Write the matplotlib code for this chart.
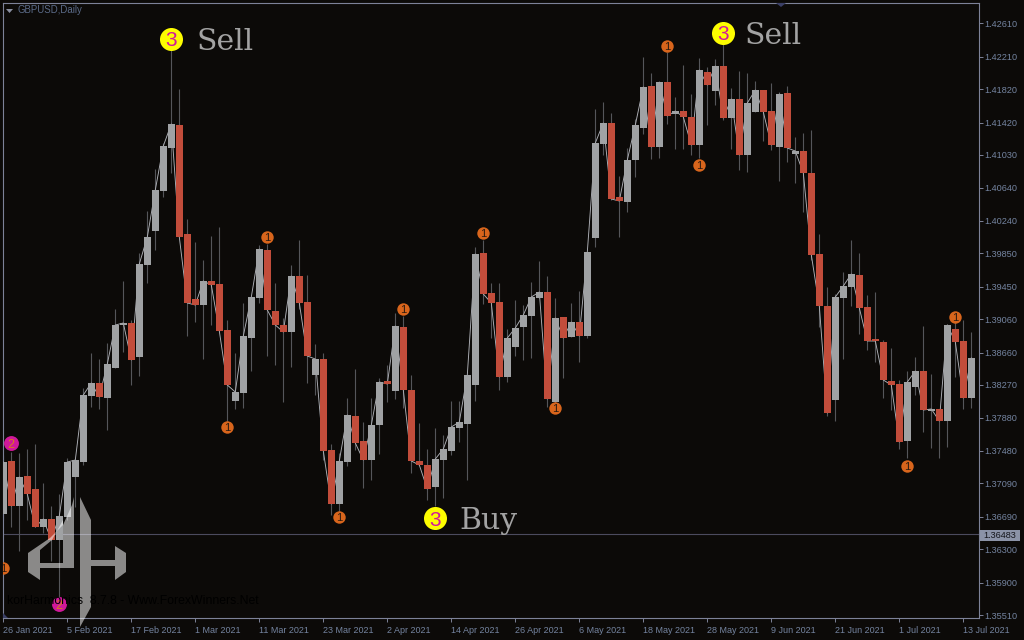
# -*- coding: utf-8 -*-
"""GBPUSD daily candles with harmonic pattern markers, dark terminal style."""
import numpy as np
import matplotlib
matplotlib.use("Agg")
import matplotlib.pyplot as plt
from matplotlib.path import Path
from matplotlib.patches import PathPatch, Polygon, Rectangle
from matplotlib.transforms import IdentityTransform

plt.rcParams.update({"font.family": ["Liberation Sans", "DejaVu Sans"]})

# prices in 1e-5 units, one entry per daily bar
opens = [136722, 137358, 136818, 137178, 137022, 136566, 136662, 136410, 136686, 137166,
         137346, 138138, 138294, 138114, 138474, 138990, 139014, 138606, 139710, 140118,
         140598, 141114, 141390, 140082, 139302, 139230, 139518, 139482, 138930, 138078,
         138174, 138834, 139314, 139890, 139158, 138990, 138906, 139578, 139266, 138390,
         138582, 137490, 136842, 137346, 137898, 137598, 137370, 137790, 138318, 138198,
         138966, 138210, 137358, 137310, 137046, 137370, 137478, 137754, 137802, 138270,
         139854, 139374, 139266, 138366, 138726, 138966, 139098, 139314, 139386, 138066,
         139086, 138846, 139026, 138858, 140034, 141162, 141414, 140526, 140466, 140970,
         141354, 141858, 141126, 141906, 141522, 141558, 141486, 141150, 142026, 141798,
         142098, 141474, 141702, 141030, 141546, 141810, 141558, 141126, 141774, 141042,
         141078, 140814, 139842, 139218, 138090, 139314, 139446, 139590, 139206, 138822,
         138786, 138318, 138282, 137598, 138246, 138438, 137958, 137982, 137838, 138942,
         138798, 138114]
highs = [137430, 137466, 137454, 137502, 137562, 137094, 136818, 136962, 137394, 137370,
         138234, 138654, 138582, 138774, 139182, 139518, 139050, 139854, 140358, 140862,
         141174, 142290, 141822, 140262, 139986, 139770, 140058, 140166, 139050, 138654,
         139254, 139326, 139950, 139962, 139494, 139074, 139710, 140010, 139590, 138762,
         138654, 137562, 137454, 138114, 138462, 137826, 138114, 138354, 138510, 139134,
         139098, 138390, 137814, 137502, 137754, 137670, 138078, 138078, 138390, 139926,
         140010, 139494, 139494, 138942, 139290, 139230, 139506, 139758, 139578, 139314,
         139086, 139254, 139398, 139866, 141582, 141666, 141534, 140778, 141114, 141462,
         142206, 142014, 141906, 142266, 141726, 142110, 141762, 142194, 142086, 142182,
         142362, 141834, 142038, 142014, 141918, 141810, 141894, 141786, 141858, 141246,
         141294, 141330, 140082, 139446, 139362, 139626, 140010, 139854, 139350, 139386,
         138810, 138714, 138330, 138438, 138606, 138978, 138402, 137982, 139002, 139026,
         139050, 138906]
lows = [136650, 136566, 136278, 136650, 136566, 136494, 136158, 135654, 136650, 136806,
        137310, 138006, 137982, 137730, 138474, 138666, 138270, 138378, 139494, 139890,
        140526, 140814, 140046, 138858, 139026, 138582, 138990, 138918, 137766, 137982,
        137994, 138438, 139254, 138618, 138510, 138066, 138486, 139182, 138294, 138150,
        137370, 136710, 136686, 137298, 137490, 137034, 137130, 137442, 138066, 138102,
        137994, 137214, 137310, 136890, 136818, 136914, 137430, 137586, 137130, 138078,
        139242, 138834, 138210, 138306, 138618, 138570, 138594, 139314, 138006, 138054,
        138354, 138846, 138546, 138834, 139926, 141030, 140490, 140046, 140346, 140766,
        141282, 140982, 140994, 141402, 141102, 141102, 141030, 140994, 141390, 141630,
        141450, 141102, 140850, 140826, 141546, 141198, 141090, 140718, 140946, 140694,
        140346, 139770, 138966, 137898, 137838, 138582, 139218, 138882, 138690, 138546,
        138114, 137970, 137502, 137394, 138150, 137706, 137514, 137394, 137526, 138366,
        137982, 137994]
closes = [137346, 136818, 137166, 136962, 136566, 136662, 136410, 136698, 137346, 137370,
          138150, 138294, 138126, 138522, 138990, 139014, 138570, 139722, 140046, 140610,
          141138, 141402, 140046, 139254, 139230, 139518, 139470, 138918, 138270, 138186,
          138858, 139326, 139902, 139170, 138990, 138906, 139578, 139254, 138618, 138582,
          137478, 136842, 137358, 137910, 137574, 137370, 137790, 138306, 138282, 138978,
          138210, 137358, 137310, 137022, 137382, 137502, 137766, 137826, 138390, 139842,
          139362, 139254, 138366, 138834, 138954, 139110, 139326, 139386, 138102, 139074,
          138834, 139026, 138858, 139866, 141174, 141414, 140502, 140478, 140970, 141390,
          141846, 141126, 141906, 141498, 141558, 141486, 141150, 142050, 141870, 142098,
          141474, 141702, 141030, 141654, 141810, 141546, 141150, 141762, 141114, 141078,
          140814, 139830, 139218, 137934, 139326, 139458, 139602, 139194, 138798, 138798,
          138330, 138270, 137586, 138306, 138438, 137970, 137982, 137838, 138990, 138786,
          138114, 138594]

# harmonic markers: bar index, price
one_idx = [0, 28, 33, 42, 50, 60, 69, 83, 87, 113, 119]
one_px = [136074, 137766, 140046, 136686, 139182, 140094, 137994, 142338, 140910, 137298, 139086]
two_idx = [1, 7]
two_px = [137574, 135642]
three_idx = [21, 54, 90]
three_px = [142422, 136674, 142494]
three_lbl = ["Sell", "Buy", "Sell"]

date_idx = list(range(0, 121, 8))
date_lbl = ["26 Jan 2021", "5 Feb 2021", "17 Feb 2021", "1 Mar 2021", "11 Mar 2021", "23 Mar 2021",
            "2 Apr 2021", "14 Apr 2021", "26 Apr 2021", "6 May 2021", "18 May 2021", "28 May 2021",
            "9 Jun 2021", "21 Jun 2021", "1 Jul 2021", "13 Jul 2021"]
price_ticks = [1.42610, 1.42210, 1.41820, 1.41420, 1.41030, 1.40640, 1.40240, 1.39850, 1.39450,
               1.39060, 1.38660, 1.38270, 1.37880, 1.37480, 1.37090, 1.36690, 1.36300, 1.35900,
               1.35510]
last_price = 1.36483

BG = "#0c0a08"
UP = "#a0a2a4"
DOWN = "#c24d3b"
WICK = "#55565a"
FRAME = "#7d8298"
LABEL = "#7484a0"
W, H = 1024, 640
LBL_DX = [18.5, 17.0, 15.5]  # label offset from the "3" circle, points


def px(x, y):
    # picture pixel (y down) -> display coords (y up)
    return x, H - y


def fig_text(x, y, s, **kw):
    fig.text(x / W, 1 - y / H, s, **kw)


o = np.array(opens) / 1e5
h = np.array(highs) / 1e5
l = np.array(lows) / 1e5
c = np.array(closes) / 1e5
xs = np.arange(len(o))
up = c >= o

fig = plt.figure(figsize=(W / 100, H / 100), dpi=100, facecolor=BG)
ax = fig.add_axes([3 / W, (H - 618) / H, 976 / W, 615 / H], facecolor=BG)
ax.set_xlim(-0.0375, 121.96)
ax.set_ylim(1.35474, 1.42854)

ax.axhline(last_price, color="#4c4b5e", lw=0.8, zorder=1)
ax.vlines(xs, l, h, color=WICK, lw=0.8, zorder=2)
ax.plot(xs, c, color="#b0b2b8", lw=0.65, zorder=3)
ax.bar(xs, np.abs(c - o), bottom=np.minimum(o, c), width=0.875,
       color=[UP if u else DOWN for u in up], lw=0, zorder=4)

# pattern markers
ax.scatter(one_idx, np.array(one_px) / 1e5, s=80, color="#d8651c", lw=0, zorder=6)
for i, p in zip(one_idx, one_px):
    ax.text(i, p / 1e5, "1", color="#2a1a10", fontsize=8, ha="center", va="center_baseline", zorder=7, clip_on=True)
ax.scatter(two_idx, np.array(two_px) / 1e5, s=115, color="#d0189a", lw=0, zorder=6)
for i, p in zip(two_idx, two_px):
    ax.text(i, p / 1e5, "2", color="#d87a20", fontsize=9, ha="center", va="center_baseline", zorder=7)
ax.scatter(three_idx, np.array(three_px) / 1e5, s=275, color="#fdfd00", lw=0, zorder=6)
for i, p, s, dx in zip(three_idx, three_px, three_lbl, LBL_DX):
    ax.text(i, p / 1e5, "3", color="#d0189a", fontsize=15, ha="center", va="center_baseline", zorder=7)
    ax.annotate(s, (i, p / 1e5), xytext=(dx, 0), textcoords="offset points", color="#a3a3a3",
                fontsize=21.5, family="DejaVu Serif", va="center_baseline", ha="left", zorder=7)

ax.set_xticks(date_idx)
ax.set_xticklabels(date_lbl, ha="left")
ax.yaxis.tick_right()
ax.set_yticks(price_ticks)
ax.set_yticklabels([f"{v:.5f}" for v in price_ticks])
ax.tick_params(axis="x", length=3, width=0.7, color=FRAME, labelcolor=LABEL, labelsize=6.5, pad=3)
ax.tick_params(axis="y", length=3, width=0.7, color=FRAME, labelcolor=LABEL, labelsize=6.6, pad=1)
for s in ax.spines.values():
    s.set_color(FRAME)
    s.set_linewidth(0.8)

# last price tag
fig.add_artist(Rectangle(px(980, 541), 40, 11, facecolor="#8b93a7", lw=0, transform=IdentityTransform()))
fig_text(1000, 535.5, "1.36483", color="#14151a", fontsize=6.6, ha="center", va="center")

# header
fig_text(18, 10, "GBPUSD,Daily", color="#5b6b88", fontsize=6.9, va="center")
fig.add_artist(Polygon([px(6, 9), px(13, 9), px(9.5, 13)], facecolor="#8a8fa0", lw=0, transform=IdentityTransform()))
fig.add_artist(Polygon([px(776, 3), px(786, 3), px(781, 7)], facecolor="#3a3f66", lw=0, transform=IdentityTransform()))
fig.add_artist(Polygon([px(3, 613), px(8, 618), px(3, 618)], facecolor="#3a3f66", lw=0, transform=IdentityTransform()))

# site logo, semi transparent; inner ring runs the other way so it cuts a hole
outer = [(28, 553), (50, 538), (63, 525), (72, 505), (74, 497), (74, 568), (40, 568), (40, 580), (28, 572)]
inner = [(40, 550), (40, 563), (63, 563), (63, 520), (52, 540)]
right = [(80, 497), (91, 520), (91, 560), (115, 560), (115, 546), (126, 553), (126, 572),
         (115, 580), (115, 566), (91, 566), (91, 607), (80, 627)]
verts, codes = [], []
for ring in (outer, inner, right):
    verts += [px(*v) for v in ring] + [px(*ring[0])]
    codes += [Path.MOVETO] + [Path.LINETO] * (len(ring) - 1) + [Path.CLOSEPOLY]
fig.add_artist(PathPatch(Path(verts, codes), facecolor="white", alpha=0.52, lw=0, transform=IdentityTransform()))
fig_text(7, 601, "korHarmonics  8.7.8 - Www.ForexWinners.Net", color="#000000", fontsize=8.8, va="center")

fig.savefig("out.png", dpi=100, facecolor=BG)
